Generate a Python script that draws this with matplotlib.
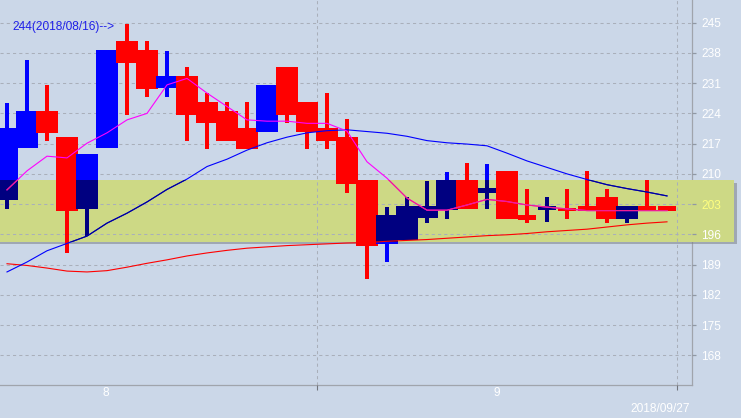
import matplotlib
matplotlib.use('Agg')
import matplotlib.pyplot as plt
import matplotlib.transforms as mtransforms
import numpy as np

plt.rcParams['font.family'] = ['Liberation Sans', 'DejaVu Sans']

# ── Candle data (blue = up, red = down) ──
opens  = [204.0, 215.9, 224.6, 218.6, 201.8, 215.9, 240.8, 238.7, 229.8, 232.7,
          226.6, 224.6, 220.6, 219.8, 234.8, 226.6, 220.6, 218.6, 208.6, 193.7,
          194.7, 199.7, 201.6, 208.6, 205.6, 210.7, 200.5, 201.6, 202.2, 202.6,
          204.6, 199.6, 202.6, 202.6]
closes = [220.7, 224.6, 219.5, 201.5, 214.6, 238.7, 235.6, 229.6, 232.7, 223.6,
          221.7, 217.6, 215.7, 230.6, 223.6, 219.6, 217.5, 207.6, 193.3, 200.5,
          202.6, 202.6, 208.6, 201.8, 206.7, 199.5, 199.3, 202.6, 201.5, 201.4,
          199.5, 202.6, 201.6, 201.4]
highs  = [226.3, 236.4, 230.6, 218.6, 214.6, 238.7, 244.7, 240.8, 238.4, 234.8,
          228.8, 226.6, 226.6, 230.6, 234.8, 226.6, 228.7, 222.6, 208.6, 202.3,
          204.6, 208.4, 210.5, 212.6, 212.3, 210.7, 206.4, 204.7, 206.4, 210.7,
          206.4, 202.6, 208.6, 202.6]
lows   = [201.8, 215.9, 217.5, 191.6, 195.6, 215.9, 223.6, 227.7, 227.9, 217.6,
          215.7, 217.6, 215.7, 219.8, 221.7, 215.7, 215.7, 205.5, 185.6, 189.7,
          194.7, 198.7, 199.6, 201.8, 201.8, 199.5, 198.6, 198.9, 199.5, 201.4,
          198.6, 198.7, 201.6, 201.4]

# ── Moving averages ──
ma_short = [206.3, 210.7, 214.1, 213.7, 217.1, 219.5, 222.5, 224.0, 230.6, 232.1,
            228.7, 225.6, 222.5, 222.2, 222.2, 221.7, 221.7, 219.9, 212.8, 209.0,
            204.4, 201.6, 201.6, 202.8, 204.1, 203.6, 202.8, 202.3, 201.9, 201.5,
            201.5, 201.5, 201.5, 201.5]
ma_mid   = [187.3, 189.6, 192.2, 193.9, 195.6, 198.6, 200.9, 203.5, 206.4, 208.8,
            211.7, 213.4, 215.5, 217.2, 218.5, 219.5, 220.0, 220.2, 219.8, 219.4,
            218.7, 217.7, 217.2, 216.9, 216.5, 214.8, 213.0, 211.5, 210.0, 208.7,
            207.5, 206.6, 205.8, 204.9]
ma_long  = [189.2, 188.8, 188.2, 187.5, 187.3, 187.6, 188.4, 189.3, 190.1, 191.0,
            191.7, 192.3, 192.8, 193.1, 193.4, 193.6, 193.8, 194.0, 194.1, 194.4,
            194.6, 194.8, 195.1, 195.4, 195.7, 195.9, 196.2, 196.6, 196.9, 197.2,
            197.7, 198.2, 198.6, 198.9]

band_low, band_high = 194.3, 208.6
yticks = [168, 175, 182, 189, 196, 203, 210, 217, 224, 231, 238, 245]
current_label = '203'
month_labels = ['8', '9']
month_pos = [4.95, 24.5]
month_ticks = [15.5, 33.5]
last_date = '2018/09/27'
peak_note = '244(2018/08/16)-->'
peak_value = 244.1

BG = '#cbd7e8'
RED = '#ff0000'
BLUE = '#0000ff'
NAVY = '#000080'

fig = plt.figure(figsize=(7.41, 4.18), dpi=100, facecolor=BG)
ax = fig.add_axes([0, 33 / 418, 691.7 / 741, 385 / 418])
ax.set_facecolor(BG)

x = np.arange(len(opens))

# ── highlight band with shadow ──
xmax_band = 734 / 691.7
ax.axhspan(band_low - 0.6, band_high - 0.6, xmin=0, xmax=xmax_band + 0.004,
           color='#7c8088', alpha=0.55, lw=0, zorder=2.55, clip_on=False)
band = ax.axhspan(band_low, band_high, xmin=0, xmax=xmax_band,
                  color='#cdd985', lw=0, zorder=2.6, clip_on=False)

# ── candles ──
for k in x:
    o, c, h, l = opens[k], closes[k], highs[k], lows[k]
    up = c > o
    col = BLUE if up else RED
    top, bot = max(o, c), min(o, c)
    w = 1.1 if top - bot > 1.5 else 0.88
    parts = [ax.bar(k, h - l, bottom=l, width=0.18, color=col, lw=0, zorder=3),
             ax.bar(k, top - bot, bottom=bot, width=w, color=col, lw=0, zorder=3)]
    if up:
        for bars in [ax.bar(k, h - l, bottom=l, width=0.18, color=NAVY, lw=0, zorder=3),
                     ax.bar(k, top - bot, bottom=bot, width=w, color=NAVY, lw=0, zorder=3)]:
            for p in bars:
                p.set_clip_path(band)

# ── moving averages ──
ax.plot(x, ma_long, color=RED, lw=0.8, zorder=4)
ax.plot(x, ma_mid, color=BLUE, lw=0.8, zorder=4)
l2, = ax.plot(x, ma_mid, color='#000090', lw=0.8, zorder=4)
l2.set_clip_path(band)
ax.plot(x, ma_short, color='#ff00ff', lw=0.8, zorder=4)
l3, = ax.plot(x, ma_short, color='#f0208c', lw=0.8, zorder=4)
l3.set_clip_path(band)

# ── axes styling ──
ax.set_xlim(-0.35, 34.235)
ax.set_ylim(161.13, 250.25)
for s in ['left', 'top']:
    ax.spines[s].set_visible(False)
for s in ['right', 'bottom']:
    ax.spines[s].set_color('#a0a4ac')
    ax.spines[s].set_linewidth(0.9)

ax.yaxis.tick_right()
ax.set_yticks(yticks)
ax.set_yticklabels([str(v) for v in yticks])
ax.tick_params(axis='y', colors='#9098a4', labelcolor='white', labelsize=8.6,
               length=3, width=0.9, pad=4)
for t in ax.get_yticklabels():
    if t.get_text() == current_label:
        t.set_color('#ffff80')

ax.set_xticks(month_ticks)
ax.set_xticklabels([])
ax.tick_params(axis='x', colors='#70747c', length=3.6, width=0.8)

ax.grid(True, color='#a9afba', ls=(0, (3, 3)), lw=0.75)
ax.yaxis.set_zorder(2.8)
ax.xaxis.set_zorder(2.8)

trans = mtransforms.blended_transform_factory(ax.transData, ax.transAxes)
for lab, pos in zip(month_labels, month_pos):
    ax.text(pos, -0.021, lab, transform=trans, color='white', fontsize=8.6,
            ha='center', va='center')
ax.text(32.65, -0.062, last_date, transform=trans, color='white', fontsize=8.6,
        ha='center', va='center', clip_on=False)

ax.text(0.25, peak_value, peak_note, color='#2020e8', fontsize=8.6,
        ha='left', va='center', zorder=5)

fig.savefig('out.png', dpi=100, facecolor=BG)
